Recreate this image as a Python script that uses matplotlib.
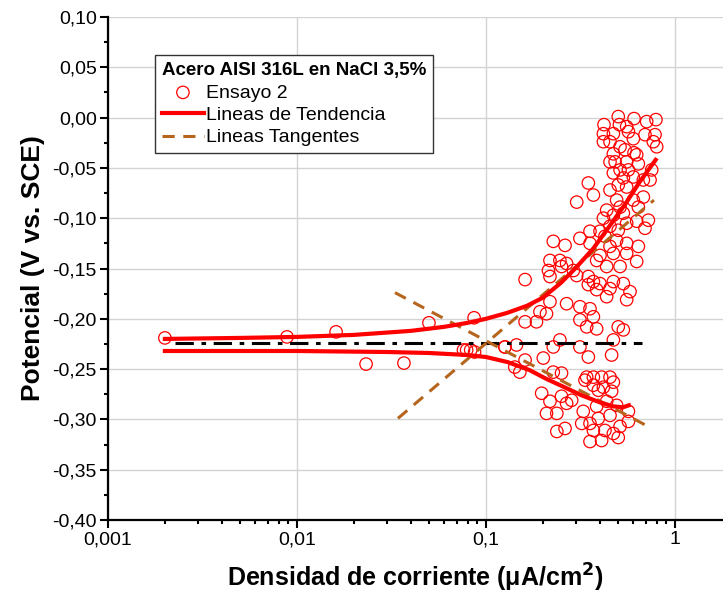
import numpy as np
import matplotlib
matplotlib.use("Agg")
import matplotlib.pyplot as plt
from matplotlib.ticker import FixedLocator, FuncFormatter, LogLocator, NullFormatter

plt.rcParams['font.family'] = ['Liberation Sans', 'DejaVu Sans']

# Ensayo 2: scattered measurements (current density uA/cm2, potential V)
ens_x = [0.0020, 0.00885, 0.0161, 0.0232, 0.0368, 0.0499, 0.0865,
         0.076, 0.079, 0.083, 0.087, 0.126,
         0.421, 0.501, 0.508, 0.555, 0.607, 0.708, 0.793, 0.567, 0.472,
         0.418, 0.418, 0.453, 0.512, 0.602, 0.694, 0.784, 0.768, 0.800, 0.472,
         0.544, 0.607, 0.482, 0.555, 0.640, 0.512, 0.453, 0.567, 0.602, 0.627,
         0.533, 0.753, 0.680, 0.738, 0.555, 0.453, 0.348, 0.370, 0.302, 0.501, 0.472,
         0.491, 0.602, 0.640, 0.680, 0.435, 0.512, 0.418, 0.472, 0.533, 0.627, 0.694, 0.723, 0.555,
         0.453, 0.355, 0.314, 0.401, 0.501, 0.355, 0.491, 0.426, 0.555, 0.227, 0.262, 0.640, 0.453,
         0.401, 0.472, 0.555, 0.627, 0.218, 0.246, 0.267, 0.290, 0.214, 0.218, 0.435, 0.512, 0.385, 0.348,
         0.161, 0.251, 0.302, 0.370, 0.401, 0.472, 0.533, 0.578, 0.555, 0.453, 0.385, 0.435, 0.348,
         0.218, 0.267, 0.314, 0.355, 0.370, 0.314, 0.341, 0.385, 0.193, 0.185, 0.209, 0.161,
         0.501, 0.533, 0.472, 0.462, 0.314, 0.348, 0.246, 0.227, 0.145, 0.161, 0.201, 0.126, 0.142,
         0.151, 0.227, 0.251, 0.341, 0.370, 0.409, 0.453, 0.370, 0.418, 0.472, 0.462, 0.393, 0.334,
         0.197, 0.218, 0.251, 0.267, 0.209, 0.237, 0.284, 0.327, 0.385, 0.435, 0.491, 0.567, 0.453,
         0.393, 0.355, 0.426, 0.321, 0.370, 0.512, 0.501, 0.237, 0.262, 0.409, 0.355, 0.472, 0.567]
ens_y = [-0.219, -0.218, -0.213, -0.245, -0.244, -0.204, -0.199,
         -0.231, -0.231, -0.231, -0.233, -0.228,
         -0.007, 0.001, -0.007, -0.009, -0.001, -0.004, -0.002, -0.014, -0.016,
         -0.016, -0.024, -0.024, -0.029, -0.021, -0.017, -0.017, -0.024, -0.029, -0.036,
         -0.032, -0.035, -0.044, -0.044, -0.046, -0.052, -0.044, -0.052, -0.059, -0.037,
         -0.060, -0.052, -0.062, -0.062, -0.069, -0.072, -0.065, -0.077, -0.084, -0.067, -0.055,
         -0.082, -0.082, -0.089, -0.079, -0.092, -0.089, -0.100, -0.097, -0.095, -0.103, -0.110, -0.102, -0.105,
         -0.108, -0.113, -0.120, -0.113, -0.112, -0.125, -0.122, -0.118, -0.125, -0.123, -0.127, -0.128, -0.128,
         -0.137, -0.135, -0.135, -0.143, -0.142, -0.142, -0.145, -0.152, -0.152, -0.158, -0.148, -0.148, -0.142, -0.158,
         -0.161, -0.148, -0.157, -0.163, -0.165, -0.163, -0.165, -0.173, -0.181, -0.170, -0.171, -0.178, -0.166,
         -0.183, -0.185, -0.188, -0.190, -0.198, -0.201, -0.208, -0.210, -0.193, -0.203, -0.195, -0.203,
         -0.208, -0.211, -0.221, -0.236, -0.228, -0.238, -0.221, -0.228, -0.226, -0.241, -0.239, -0.228, -0.248,
         -0.253, -0.253, -0.254, -0.258, -0.258, -0.258, -0.258, -0.266, -0.268, -0.263, -0.272, -0.271, -0.261,
         -0.274, -0.282, -0.277, -0.284, -0.294, -0.294, -0.281, -0.292, -0.287, -0.282, -0.286, -0.292, -0.296,
         -0.299, -0.304, -0.311, -0.304, -0.311, -0.307, -0.318, -0.312, -0.309, -0.321, -0.322, -0.314, -0.302]

# trend lines (anodic / cathodic branches)
anod_x = [0.002, 0.005, 0.01, 0.02, 0.04, 0.06, 0.08, 0.1, 0.13, 0.165, 0.2, 0.25,
          0.3, 0.37, 0.45, 0.55, 0.65, 0.79]
anod_y = [-0.220, -0.219, -0.218, -0.216, -0.212, -0.208, -0.204, -0.200, -0.194, -0.187,
          -0.179, -0.164, -0.149, -0.130, -0.108, -0.085, -0.064, -0.042]
cat_x = [0.002, 0.01, 0.03, 0.05, 0.08, 0.1, 0.13, 0.17, 0.21, 0.26, 0.32, 0.4, 0.47, 0.53, 0.57]
cat_y = [-0.232, -0.232, -0.233, -0.234, -0.236, -0.238, -0.243, -0.251, -0.260, -0.268,
         -0.276, -0.283, -0.287, -0.288, -0.286]

# tangent lines
tan1_x = [0.033, 0.755]
tan1_y = [-0.174, -0.309]
tan2_x = [0.0342, 0.774]
tan2_y = [-0.299, -0.082]

# corrosion potential
ecorr_x = [0.00226, 0.67]
ecorr_y = [-0.224, -0.224]

fig = plt.figure(figsize=(7.23, 6.04), dpi=100)
ax = fig.add_axes([108 / 723, 84 / 604, 615 / 723, 503 / 604])

ax.plot(ecorr_x, ecorr_y, color='black', lw=2.2, ls=(0, (6, 2.5, 1.5, 2.5)), zorder=3)
ax.plot(tan1_x, tan1_y, color='#b5651d', lw=2.2, ls=(0, (4, 2.8)), zorder=4,
        label='Lineas Tangentes')
ax.plot(tan2_x, tan2_y, color='#b5651d', lw=2.2, ls=(0, (4, 2.8)), zorder=4)
ax.scatter(ens_x, ens_y, s=80, facecolors='none', edgecolors='red', linewidths=0.9,
           zorder=2, label='Ensayo 2')
ax.plot(anod_x, anod_y, color='red', lw=3, zorder=5, label='Lineas de Tendencia')
ax.plot(cat_x, cat_y, color='red', lw=3, zorder=5)

ax.set_xscale('log')
ax.set_xlim(1e-3, 10 ** 0.254)
ax.set_ylim(-0.40, 0.10)

ax.set_yticks(np.arange(-0.40, 0.101, 0.05))
ax.yaxis.set_minor_locator(FixedLocator(np.arange(-0.375, 0.1, 0.05)))
ax.yaxis.set_major_formatter(FuncFormatter(lambda v, p: f'{v:.2f}'.replace('.', ',').replace('-0,00', '0,00')))
ax.xaxis.set_major_locator(FixedLocator([0.001, 0.01, 0.1, 1]))
ax.xaxis.set_major_formatter(FuncFormatter(lambda v, p: f'{v:g}'.replace('.', ',')))
ax.xaxis.set_minor_locator(LogLocator(base=10, subs=np.arange(2, 10)))
ax.xaxis.set_minor_formatter(NullFormatter())

ax.tick_params(which='major', direction='out', length=5.5, width=1.5, pad=2.5,
               labelsize=14, colors='black')
ax.tick_params(which='minor', direction='out', length=3, width=1.5)
ax.spines['top'].set_visible(False)
ax.spines['right'].set_visible(False)
ax.spines['left'].set_linewidth(1.6)
ax.spines['bottom'].set_linewidth(1.6)
ax.grid(True, which='major', color='#d3d3d3', lw=1)
ax.set_axisbelow(True)

ax.set_xlabel('Densidad de corriente (μA/cm$^\\mathbf{2}$)', fontsize=18, fontweight='bold', labelpad=10)
ax.set_ylabel('Potencial (V vs. SCE)', fontsize=19, fontweight='bold', labelpad=5)

h, l = ax.get_legend_handles_labels()
order = [l.index('Ensayo 2'), l.index('Lineas de Tendencia'), l.index('Lineas Tangentes')]
leg = ax.legend([h[i] for i in order], [l[i] for i in order],
                title='Acero AISI 316L en NaCl 3,5%', loc='upper left',
                bbox_to_anchor=(0.076, 0.924), fontsize=14, title_fontproperties={'weight': 'bold', 'size': 13.5},
                frameon=True, fancybox=False, edgecolor='#333333', framealpha=1,
                handlelength=2.2, handletextpad=0.1, borderpad=0.35, labelspacing=0.25,
                borderaxespad=0)
leg.get_frame().set_linewidth(1)
leg._legend_box.align = 'left'

fig.savefig('out.png', dpi=100)
